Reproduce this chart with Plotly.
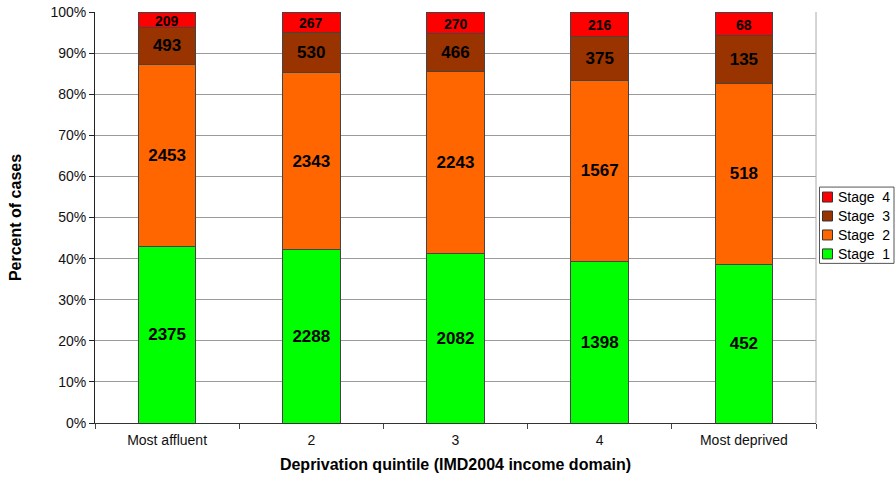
import plotly.graph_objects as go

categories = ["Most affluent", "2", "3", "4", "Most deprived"]
stage1 = [2375, 2288, 2082, 1398, 452]
stage2 = [2453, 2343, 2243, 1567, 518]
stage3 = [493, 530, 466, 375, 135]
stage4 = [209, 267, 270, 216, 68]

names = ["Stage  1", "Stage  2", "Stage  3", "Stage  4"]
colors = ["#00FF00", "#FF6600", "#993300", "#FF0000"]
data = [stage1, stage2, stage3, stage4]

W, H = 896, 478
L, R, T, B = 95, 816, 11.5, 423.5


def px(x):
    return (x - L) / (R - L)


def py(y):
    return (B - y) / (B - T)


fig = go.Figure()
for i, (name, vals, col) in enumerate(zip(names, data, colors)):
    small = i == 3
    fig.add_trace(go.Bar(
        x=categories, y=vals, name=name, showlegend=False,
        marker=dict(color=col, line=dict(color="#444444", width=1)),
        text=None if small else [str(v) for v in vals],
        textposition="none" if small else "inside",
        insidetextanchor="middle", constraintext="none",
        textfont=dict(family="Liberation Sans", size=17, color="black", weight="bold"),
        hoverinfo="skip",
    ))

# stage 4 labels as annotations at segment middle (percent scale)
totals = [a + b + c + d for a, b, c, d in zip(stage1, stage2, stage3, stage4)]
for idx, (v, tot) in enumerate(zip(stage4, totals)):
    pct = 100.0 * v / tot
    fig.add_annotation(x=idx, y=100 - pct / 2, xref="x", yref="y", text=f"<b>{v}</b>",
                       showarrow=False, font=dict(family="Liberation Sans", size=14, color="black"),
                       yshift=-1)

fig.update_layout(
    barmode="stack", barnorm="percent", bargap=0.6,
    width=W, height=H,
    margin=dict(l=L, r=W - R, t=T, b=H - B, autoexpand=False),
    plot_bgcolor="white", paper_bgcolor="white",
    font=dict(family="Liberation Sans", size=14, color="black"),
    showlegend=False,
    xaxis=dict(
        tickson="boundaries", ticks="outside", ticklen=5, tickcolor="#444444",
        showline=True, linecolor="#333333", linewidth=1,
        tickfont=dict(size=14, color="#111111"), ticklabelstandoff=4,
        title=dict(text="<b>Deprivation quintile (IMD2004 income domain)</b>",
                   font=dict(size=16), standoff=12),
    ),
    yaxis=dict(
        range=[0, 100], dtick=10, ticksuffix="%",
        ticks="outside", ticklen=5, tickcolor="#222222",
        showline=True, linecolor="#222222", linewidth=1,
        showgrid=True, gridcolor="#9a9a9a", gridwidth=1,
        tickfont=dict(size=14, color="#111111"),
        title=dict(text="<b>Percent of cases</b>", font=dict(size=16), standoff=24),
    ),
)
fig.add_shape(type="line", xref="paper", yref="paper", x0=1, x1=1, y0=0, y1=1,
              line=dict(color="#aaaaaa", width=1))

# custom legend
lx0, lx1, ly0, ly1 = 819.5, 894, 187, 263.5
fig.add_shape(type="rect", xref="paper", yref="paper",
              x0=px(lx0), x1=px(lx1), y0=py(ly1), y1=py(ly0),
              line=dict(color="#555555", width=1), fillcolor="white")
item_y = [197, 216, 235, 254]
for k, idx in enumerate([3, 2, 1, 0]):
    cy = item_y[k]
    fig.add_shape(type="rect", xref="paper", yref="paper",
                  x0=px(822.5), x1=px(832.5), y0=py(cy + 5), y1=py(cy - 5),
                  line=dict(color="#333333", width=1), fillcolor=colors[idx])
    fig.add_annotation(x=px(836), y=py(cy), xref="paper", yref="paper",
                       xanchor="left", yanchor="middle", showarrow=False,
                       text=names[idx].replace("  ", "&nbsp; "),
                       font=dict(family="Liberation Sans", size=14, color="black"))

fig.write_html("out.html")
